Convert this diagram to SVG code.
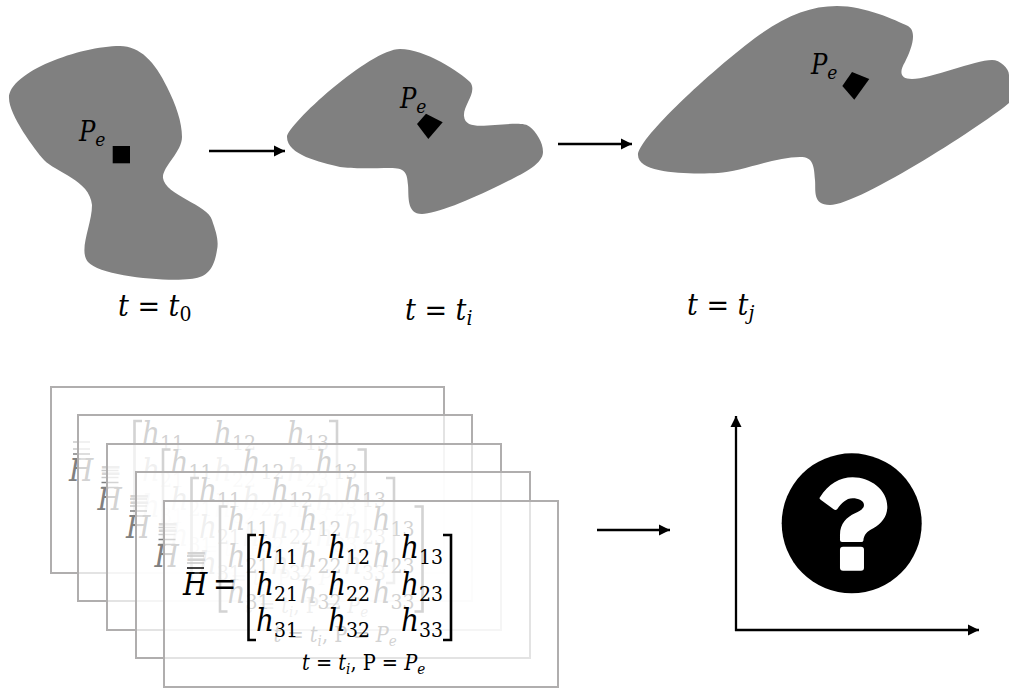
<svg xmlns="http://www.w3.org/2000/svg" xmlns:xlink="http://www.w3.org/1999/xlink" width="1009" height="689" viewBox="0 0 1009 689">
<style>
text{font-family:"DejaVu Serif Condensed","DejaVu Serif","Liberation Serif",serif}
.i{font-style:italic}
.blob{fill:#808080}
.mark{fill:#000}
.pe{font-size:27px;fill:#000}
.pe .sub{font-size:19px}
.cap{font-size:30px;fill:#000}
.cap .sub{font-size:21px}
.frame{fill:#fff;fill-opacity:.65;stroke:#b0aeae;stroke-width:2}
.ent{font-size:31px}
.ent .sub{font-size:21px;font-style:normal}
.small{font-size:21.500px}
.small .sub{font-size:15px}
.br{fill:none;stroke:currentColor;stroke-width:2.600}
.bar{stroke:currentColor;stroke-width:1.500;fill:none}
.ghost{stroke:#c8c8c8;stroke-width:1.500}
.wire{fill:none;stroke:#000;stroke-width:2.300;marker-end:url(#ah)}
.faded{color:#808080;fill:#808080}
.solid{color:#000;fill:#000}
</style>
<defs>
<marker id="ah" markerUnits="userSpaceOnUse" markerWidth="12" markerHeight="12" refX="11" refY="6" orient="auto"><path d="M0 0.500L11 6L0 11.500Z" fill="#000"/></marker>
<g id="mat">
<line class="ghost" x1="187" y1="556" x2="204" y2="556"/><line class="ghost" x1="187" y1="563" x2="204" y2="563"/>
<line class="bar" x1="187" y1="568" x2="204" y2="568"/><line class="bar" x1="187" y1="573" x2="204" y2="573"/>
<text class="ent i" x="183" y="595">H</text>
<text class="ent" x="213" y="595">=</text>
<path class="br" d="M256 535H248.500V640H256"/>
<path class="br" d="M443 535H451V640H443"/>
<text class="ent" x="256" y="558"><tspan class="i">h</tspan><tspan class="sub" dy="6">11</tspan></text>
<text class="ent" x="328" y="558"><tspan class="i">h</tspan><tspan class="sub" dy="6">12</tspan></text>
<text class="ent" x="401" y="558"><tspan class="i">h</tspan><tspan class="sub" dy="6">13</tspan></text>
<text class="ent" x="256" y="595"><tspan class="i">h</tspan><tspan class="sub" dy="6">21</tspan></text>
<text class="ent" x="328" y="595"><tspan class="i">h</tspan><tspan class="sub" dy="6">22</tspan></text>
<text class="ent" x="401" y="595"><tspan class="i">h</tspan><tspan class="sub" dy="6">23</tspan></text>
<text class="ent" x="256" y="631"><tspan class="i">h</tspan><tspan class="sub" dy="6">31</tspan></text>
<text class="ent" x="328" y="631"><tspan class="i">h</tspan><tspan class="sub" dy="6">32</tspan></text>
<text class="ent" x="401" y="631"><tspan class="i">h</tspan><tspan class="sub" dy="6">33</tspan></text>
<text class="small" x="302" y="670"><tspan class="i">t</tspan> = <tspan class="i">t</tspan><tspan class="sub i" dy="4">i</tspan><tspan dy="-4">, P = </tspan><tspan class="i">P</tspan><tspan class="sub i" dy="4">e</tspan></text>
</g>
</defs>
<rect width="1009" height="689" fill="#fff"/>
<g id="state-t0">
<path class="blob" d="M120 46C140 46 155 62 167 87C176 105 182 122 182 137C182 152 162 167 163 178C165 195 208 205 212 220C216 232 219 240 217 250C214 270 206 278 190 279C165 282 100 276 88 262C78 250 92 225 92 205C90 180 55 172 44 160C35 150 9 115 9 98C9 72 80 46 120 46Z"/>
<rect class="mark" x="112.700" y="146" width="17.300" height="17.300"/>
<text class="pe" x="79" y="141"><tspan class="i">P</tspan><tspan class="sub i" dy="5">e</tspan></text>
<text class="cap" x="118" y="316"><tspan class="i">t</tspan> = <tspan class="i">t</tspan><tspan class="sub" dy="5">0</tspan></text>
</g>
<g id="state-ti">
<path class="blob" d="M400 49C425 49 460 72 470 82C478 92 463 105 464 116C465 128 480 126 495 125C510 124 525 122 530 127C536 132 543 142 543 152C543 165 520 175 500 185C470 200 435 214 422 214C406 214 409 195 408 185C407 172 405 168 390 168C375 168 352 169 340 167C320 162 287 155 287 137C287 125 370 49 400 49Z"/>
<polygon class="mark" points="426,113.700 442.700,122.300 428.300,139 417,124"/>
<text class="pe" x="400" y="108"><tspan class="i">P</tspan><tspan class="sub i" dy="5">e</tspan></text>
<text class="cap" x="405" y="320"><tspan class="i">t</tspan> = <tspan class="i">t</tspan><tspan class="sub i" dy="5">i</tspan></text>
</g>
<g id="state-tj">
<path class="blob" d="M837 6C865 6 895 20 908 26C918 32 911 50 905 62C899 72 900 79 912 79C930 79 975 60 992 60C1000 60 1009 68 1009 75L1009 103C990 120 860 205 830 205C812 205 816 190 815 180C814 165 813 157 800 157C775 157 740 172 718 173C695 174 638 175 638 155C638 140 700 80 755 38C785 16 810 6 837 6Z"/>
<polygon class="mark" points="852,72 869.300,79 854.300,99.700 842.300,86"/>
<text class="pe" x="811" y="74"><tspan class="i">P</tspan><tspan class="sub i" dy="5">e</tspan></text>
<text class="cap" x="687" y="315"><tspan class="i">t</tspan> = <tspan class="i">t</tspan><tspan class="sub i" dy="5">j</tspan></text>
</g>
<g id="frame-1"><rect class="frame" x="51" y="387" width="393" height="186"/><use xlink:href="#mat" href="#mat" class="faded" transform="translate(-114 -114)"/></g>
<g id="frame-2"><rect class="frame" x="78" y="415" width="394" height="186"/><use xlink:href="#mat" href="#mat" class="faded" transform="translate(-85.500 -85.500)"/></g>
<g id="frame-3"><rect class="frame" x="107" y="444" width="394" height="186"/><use xlink:href="#mat" href="#mat" class="faded" transform="translate(-57 -57)"/></g>
<g id="frame-4"><rect class="frame" x="136" y="472" width="394" height="186"/><use xlink:href="#mat" href="#mat" class="faded" transform="translate(-28.500 -28.500)"/></g>
<g id="frame-5"><rect class="frame" x="164" y="501" width="394" height="186"/><use xlink:href="#mat" href="#mat" class="solid"/></g>
<g id="result">
<circle cx="851.700" cy="523.300" r="70" fill="#000"/>
<g transform="translate(720 410) scale(.3333)" fill="#fff">
<path d="M300 262C325 222 360 202 398 202C452 202 502 240 502 290C502 320 485 340 460 355C440 365 432 375 430 392Q429 396 424 396L366 396Q360 396 360 390L360 375C360 340 380 322 405 310C422 302 432 295 432 285C432 272 415 265 398 265C378 265 365 280 352 297Q347 302 341 298L303 270Q296 266 300 262Z"/>
<rect x="360" y="410" width="72" height="72" rx="9"/>
</g>
</g>
<g id="connectors">
<path class="wire" d="M209 151H285"/>
<path class="wire" d="M558 144H632"/>
<path class="wire" d="M597 530H670"/>
<path class="wire" d="M736 631V416"/>
<path class="wire" d="M735 630H979"/>
</g>
</svg>
